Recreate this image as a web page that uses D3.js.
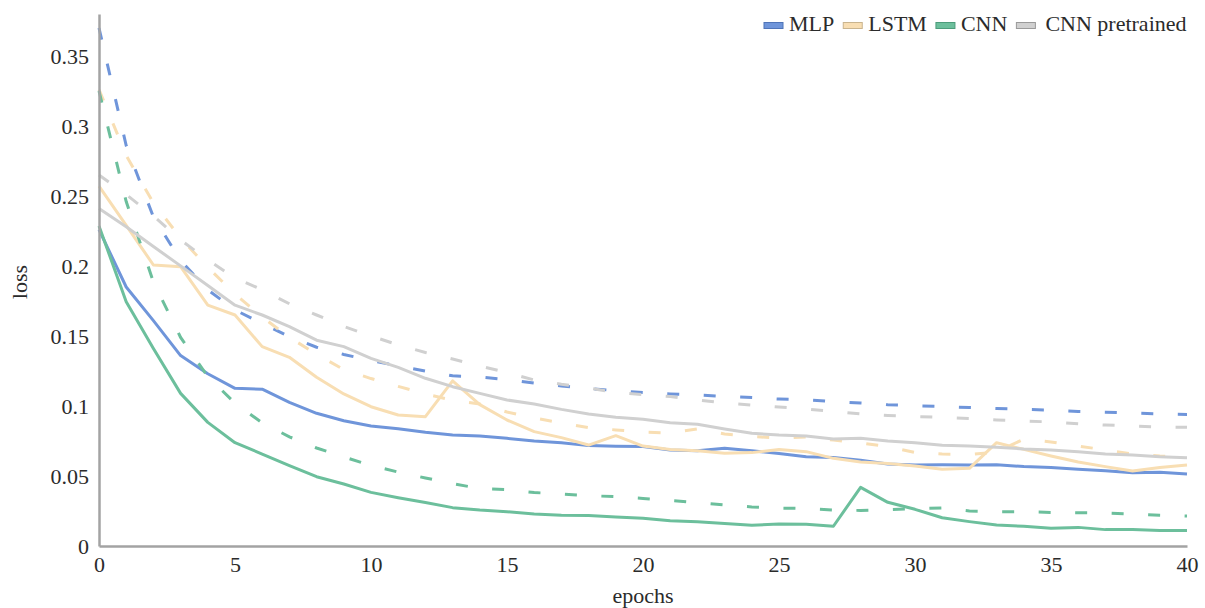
<!DOCTYPE html>
<html>
<head>
<meta charset="utf-8">
<script src="https://cdn.jsdelivr.net/npm/d3@7"></script>
<style>
  html, body { margin: 0; padding: 0; background: #fff; }
  svg { display: block; }
  text { font-family: "Liberation Serif", "Times New Roman", serif; fill: #2b2b2b; }
</style>
</head>
<body>
<svg id="chart" width="1205" height="608"></svg>
<script>
const epochs = [0,1,2,3,4,5,6,7,8,9,10,11,12,13,14,15,16,17,18,19,20,21,22,23,24,25,26,27,28,29,30,31,32,33,34,35,36,37,38,39,40];

const seriesNames = ["MLP", "LSTM", "CNN", "CNN pretrained"];
const seriesColors = ["#6f95da", "#f8deb3", "#6cbf9c", "#d0d0d0"];
const swatchStroke = ["#4f74b8", "#c9b48e", "#4c9c7b", "#9a9a9a"];

// solid lines (training loss)
const mlpTrain = [0.226,0.185,0.161,0.136,0.123,0.1126,0.112,0.1026,0.0948,0.0895,0.0857,0.0838,0.0812,0.0793,0.0786,0.0769,0.075,0.0738,0.0717,0.0712,0.071,0.0686,0.068,0.0698,0.068,0.066,0.0638,0.0633,0.0612,0.0586,0.0579,0.058,0.0579,0.058,0.0567,0.056,0.0548,0.0538,0.0524,0.0526,0.0514];
const lstmTrain = [0.257,0.229,0.2007,0.1995,0.172,0.165,0.1424,0.1348,0.1205,0.1086,0.0995,0.0936,0.0924,0.118,0.101,0.09,0.0817,0.0774,0.0721,0.0788,0.0714,0.069,0.068,0.0662,0.0667,0.069,0.0674,0.0626,0.06,0.059,0.0571,0.0548,0.0555,0.0738,0.069,0.0643,0.06,0.0567,0.0536,0.056,0.0579];
const cnnTrain = [0.2286,0.1745,0.141,0.109,0.0883,0.0738,0.0657,0.0574,0.0495,0.0443,0.0383,0.0345,0.031,0.0274,0.0257,0.0245,0.0229,0.0219,0.0217,0.0207,0.0198,0.0181,0.0174,0.016,0.0148,0.0157,0.0155,0.0141,0.0419,0.0312,0.0262,0.0202,0.0174,0.015,0.0141,0.0126,0.0133,0.0117,0.0117,0.011,0.011];
const pretrainedTrain = [0.241,0.228,0.2139,0.2001,0.1861,0.172,0.165,0.1567,0.147,0.1424,0.134,0.1276,0.1198,0.1138,0.109,0.1043,0.1014,0.0976,0.0943,0.0919,0.0905,0.0881,0.0869,0.0836,0.0805,0.0793,0.0786,0.0764,0.0769,0.075,0.0738,0.0719,0.0714,0.0705,0.0693,0.0686,0.0674,0.0657,0.065,0.0638,0.0631];

// dashed lines (validation loss)
const mlpVal = [0.37,0.286,0.235,0.204,0.183,0.1686,0.159,0.1496,0.142,0.1368,0.1325,0.1286,0.125,0.1216,0.1207,0.1189,0.1164,0.1143,0.1125,0.111,0.1096,0.1086,0.1079,0.1068,0.106,0.105,0.1043,0.1032,0.1021,0.1009,0.1002,0.0996,0.0989,0.0982,0.0976,0.0971,0.0961,0.0956,0.095,0.0943,0.094];
const lstmVal = [0.326,0.279,0.245,0.22,0.199,0.18,0.1636,0.149,0.137,0.126,0.1196,0.114,0.1086,0.104,0.1014,0.0957,0.0914,0.0879,0.0846,0.0829,0.0814,0.0807,0.0836,0.08,0.0782,0.0771,0.0779,0.0757,0.0736,0.071,0.0668,0.0657,0.0654,0.0671,0.0764,0.0743,0.0714,0.0686,0.0657,0.0643,0.0636];
const cnnVal = [0.325,0.246,0.1886,0.149,0.121,0.102,0.088,0.078,0.07,0.0636,0.0575,0.0528,0.0486,0.0446,0.041,0.0402,0.0382,0.0371,0.036,0.0352,0.034,0.0325,0.031,0.0293,0.0279,0.0271,0.0268,0.0257,0.0254,0.026,0.0266,0.0272,0.025,0.0245,0.0245,0.024,0.0238,0.0236,0.0228,0.022,0.0214];
const pretrainedVal = [0.265,0.251,0.2357,0.2186,0.2043,0.1914,0.183,0.173,0.165,0.1568,0.15,0.1436,0.1382,0.1336,0.1286,0.1239,0.1186,0.1155,0.1129,0.1096,0.1082,0.1068,0.1043,0.1021,0.1007,0.0993,0.0979,0.0961,0.0943,0.0932,0.0925,0.0918,0.0911,0.09,0.0893,0.0886,0.0874,0.0864,0.0857,0.085,0.0848];

const xTicks = [0,5,10,15,20,25,30,35,40];
const yTicks = [0,0.05,0.1,0.15,0.2,0.25,0.3,0.35];
const yTickLabels = ["0","0.05","0.1","0.15","0.2","0.25","0.3","0.35"];

const svg = d3.select("#chart");
const x = d3.scaleLinear().domain([0, 40]).range([99, 1187]);
const y = d3.scaleLinear().domain([0, 0.38]).range([546, 14]);

const trainSeries = [mlpTrain, lstmTrain, cnnTrain, pretrainedTrain];
const valSeries = [mlpVal, lstmVal, cnnVal, pretrainedVal];

const line = d3.line().x((d, i) => x(epochs[i])).y(d => y(d));

const plot = svg.append("g");
trainSeries.forEach((s, k) => {
  plot.append("path").datum(s)
    .attr("d", line).attr("fill", "none")
    .attr("stroke", seriesColors[k]).attr("stroke-width", 3)
    .attr("stroke-linejoin", "round");
  plot.append("path").datum(valSeries[k])
    .attr("d", line).attr("fill", "none")
    .attr("stroke", seriesColors[k]).attr("stroke-width", 3)
    .attr("stroke-dasharray", "12,24.5");
});

// axes
const axisColor = "#a3a3a3";
const gx = svg.append("g").attr("transform", `translate(0,${y(0)})`)
  .call(d3.axisBottom(x).tickValues(xTicks).tickSize(0).tickSizeOuter(0).tickPadding(10).tickFormat(d3.format("d")));
const gy = svg.append("g").attr("transform", `translate(${x(0)},0)`)
  .call(d3.axisLeft(y).tickValues(yTicks).tickSize(0).tickSizeOuter(0).tickPadding(10).tickFormat((d, i) => yTickLabels[i]));
[gx, gy].forEach(g => {
  g.select(".domain").attr("stroke", axisColor).attr("stroke-width", 2.5);
  g.selectAll("text").attr("font-size", 22).attr("font-family", '"Liberation Serif", "Times New Roman", serif').attr("fill", "#2b2b2b");
});

svg.append("text").attr("x", (x(0) + x(40)) / 2).attr("y", 603)
  .attr("text-anchor", "middle").attr("font-size", 22).text("epochs");
svg.append("text").attr("transform", `translate(27,282) rotate(-90)`)
  .attr("text-anchor", "middle").attr("font-size", 22).text("loss");

// legend
const legend = svg.append("g");
let lx = 764;
seriesNames.forEach((name, k) => {
  legend.append("rect").attr("x", lx).attr("y", 22.5).attr("width", 19).attr("height", 6)
    .attr("fill", seriesColors[k]).attr("stroke", swatchStroke[k]).attr("stroke-width", 1);
  const t = legend.append("text").attr("x", lx + 25 + (k === 3 ? 4 : 0)).attr("y", 31)
    .attr("font-size", 22).text(name);
  lx = lx + 25 + (k === 3 ? 4 : 0) + t.node().getComputedTextLength() + 9;
});
</script>
</body>
</html>
